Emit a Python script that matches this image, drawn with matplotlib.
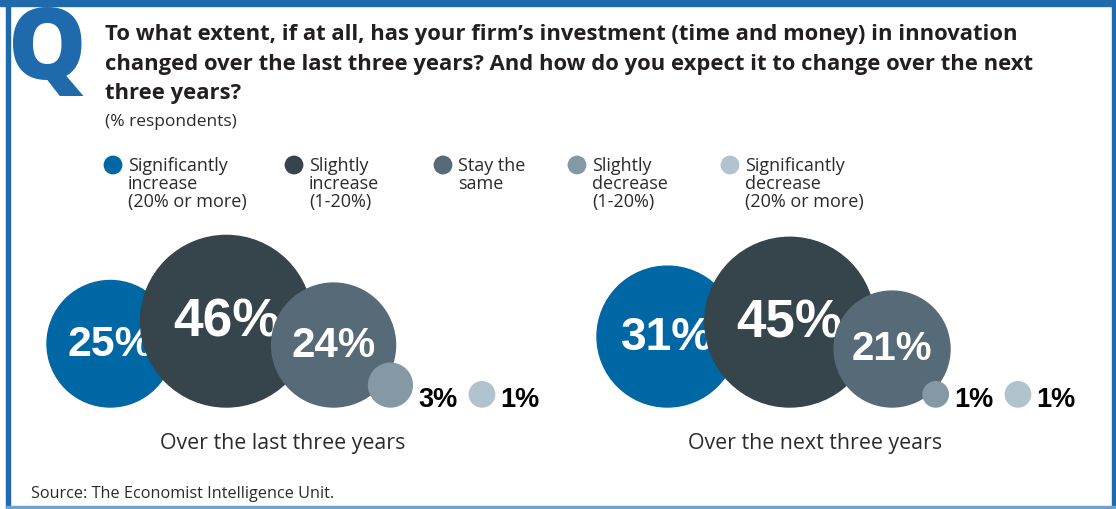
import numpy as np
import matplotlib.pyplot as plt
from matplotlib.patches import Circle, Rectangle

# data
categories = ['Significantly\nincrease\n(20% or more)', 'Slightly\nincrease\n(1-20%)',
              'Stay the\nsame', 'Slightly\ndecrease\n(1-20%)', 'Significantly\ndecrease\n(20% or more)']
last_three_years = [25, 46, 24, 3, 1]
next_three_years = [31, 45, 21, 1, 1]
panel_titles = ['Over the last three years', 'Over the next three years']
title_lines = ['To what extent, if at all, has your firm\u2019s investment (time and money) in innovation',
               'changed over the last three years? And how do you expect it to change over the next',
               'three years?']
subtitle = '(% respondents)'
source = 'Source: The Economist Intelligence Unit.'

colors = ['#0067a5', '#36444c', '#566a77', '#8499a4', '#b1c3cf']
frame_blue = '#1f6aad'
PX = 0.72  # points per pixel at dpi 100
K = 12.65  # radius = K * sqrt(value), in pixels


def draw_group(ax, values, left, bottom, title_x, title):
  """
  Draw one row of overlapping bubbles, area proportional to value.
  Each bubble (and its label) sits on top of the one to its left.
  """
  radii = K * np.sqrt(values)
  overlaps = [33, 40.5, 27]
  x = left + radii[0]
  xs = [x]
  for i in range(1, len(values)):
    if i <= 3:
      x = x + radii[i - 1] + radii[i] - overlaps[i - 1]
    else:
      x = x + radii[i - 1] + radii[i] + 57
    xs.append(x)
  for i, (v, r, cx) in enumerate(zip(values, radii, xs)):
    cy = bottom - r
    z = 2 + 2 * i
    ax.add_patch(Circle((cx, cy), r, color=colors[i], zorder=z))
    if r > 40:
      cap = 0.31 * r + 8.5
      ax.text(cx, cy - 2 + cap / 2, f'{v}%', color='white', ha='center', va='baseline',
              fontsize=cap / 0.69 * PX * 1.05, fontweight='bold', family='Liberation Sans',
              zorder=z + 1)
    else:
      ax.text(cx + r + 6, bottom, f'{v}%', color='black', ha='left', va='baseline',
              fontsize=19.5, fontweight='bold', family='Liberation Sans', zorder=z + 1)
  ax.text(title_x, 449, title, ha='center', va='baseline', fontsize=15.4,
          family='Open Sans', color='#2b2b2b')


fig = plt.figure(figsize=(11.16, 5.09), dpi=100)
ax = fig.add_axes([0, 0, 1, 1])
ax.set_xlim(0, 1116)
ax.set_ylim(509, 0)
ax.axis('off')

# frame
ax.add_patch(Rectangle((0, 0), 1116, 6, color=frame_blue, zorder=1))
ax.add_patch(Rectangle((6, 0), 4, 509, color=frame_blue, zorder=1))
ax.add_patch(Rectangle((1112, 0), 4, 509, color=frame_blue, zorder=1))
ax.add_patch(Rectangle((6, 506), 1110, 2, color='#6fa3cf', zorder=1))

# big Q
ax.text(8, 79, 'Q', color=frame_blue, fontsize=71, fontweight='heavy', family='Open Sans',
        va='baseline', ha='left', zorder=2)

# question
for i, line in enumerate(title_lines):
  ax.text(105, 40 + 29.5 * i, line, fontsize=15.8, fontweight='bold', family='Open Sans',
          color='#231f20', va='baseline')
ax.text(105, 126, subtitle, fontsize=12.5, family='Open Sans', color='#2b2b2b', va='baseline')

# legend
legend_x = [113, 294, 443, 577, 730]
for lx, label, c in zip(legend_x, categories, colors):
  ax.add_patch(Circle((lx, 165), 8.7, color=c, zorder=2))
  for j, part in enumerate(label.split('\n')):
    ax.text(lx + 15, 171 + 18 * j, part, fontsize=13, family='Open Sans',
            color='#2b2b2b', va='baseline')

draw_group(ax, last_three_years, 47, 407, 283, panel_titles[0])
draw_group(ax, next_three_years, 597, 407, 815, panel_titles[1])

ax.text(31, 498, source, fontsize=11.7, family='Open Sans', color='#2b2b2b', va='baseline')

plt.savefig('out.png', dpi=100)
plt.close()
